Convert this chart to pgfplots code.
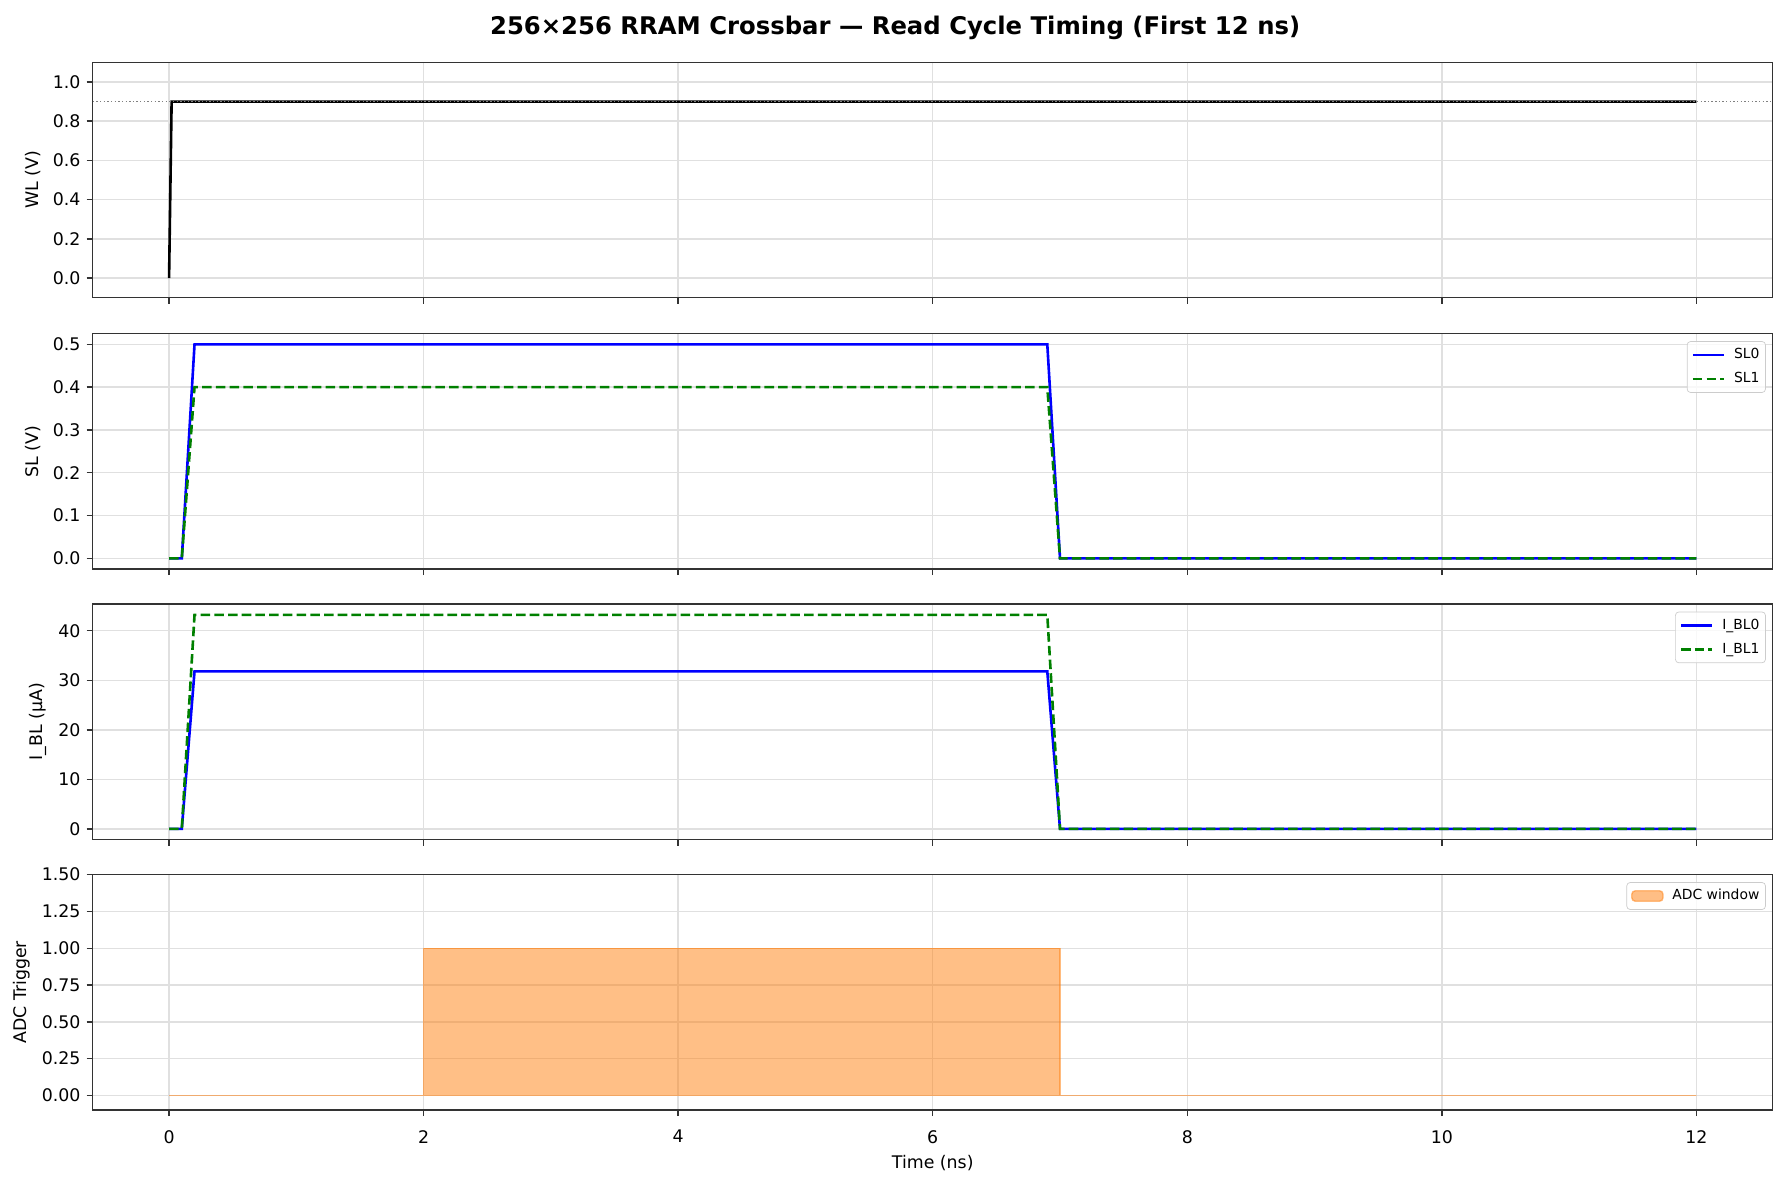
\documentclass[border=0pt]{standalone}
\usepackage{fontspec}
\setmainfont{DejaVu Sans}
\usepackage{pgfplots}
\pgfplotsset{compat=1.18}

\definecolor{mplblue}{RGB}{0,0,255}
\definecolor{mplgreen}{RGB}{0,128,0}
\definecolor{adcorange}{RGB}{255,127,14}
\definecolor{spine}{RGB}{51,51,51}

\pgfplotsset{
  panel/.style={
    scale only axis, width=967.7pt, height=135.6pt,
    anchor=south west,
    xmin=-0.6, xmax=12.6, xtick={0,2,4,6,8,10,12},
    tick pos=left, tick align=outside,
    major tick length=3.5pt,
    tick style={spine, line width=0.8pt},
    axis line style={spine, line width=0.8pt},
    grid=major, grid style={black!12, line width=0.8pt},
    ticklabel style={font=\fontsize{10}{12}\selectfont},
    xticklabel style={yshift=-4.6pt},
    label style={font=\fontsize{10}{12}\selectfont},
    /pgf/number format/assume math mode=true,
    legend cell align=left,
    legend style={at={(1,1)}, anchor=north east, xshift=-4pt, yshift=-4.3pt,
      font=\fontsize{8}{9.6}\selectfont, draw=black!20, rounded corners=2pt,
      fill=white, fill opacity=0.8, text opacity=1,
      inner xsep=2.5pt, inner ysep=3pt, nodes={inner sep=1pt},
      column sep=4pt, row sep=4.5pt},
    legend image code/.code={\draw[#1, line width=1.5pt] (0pt,0pt) -- (18pt,0pt);},
  },
  sigline/.style={line width=1.5pt},
  dashline/.style={line width=1.5pt, dash pattern=on 5.5pt off 2.4pt},
}

\begin{document}
\begin{tikzpicture}

% WL
\begin{axis}[panel, at={(0pt,467.9pt)}, xticklabels={},
  ymin=-0.1, ymax=1.1, ytick={0,0.2,0.4,0.6,0.8,1.0},
  yticklabel style={/pgf/number format/.cd, fixed, fixed zerofill, precision=1},
  ylabel={WL (V)},
  title={256×256 RRAM Crossbar — Read Cycle Timing (First 12 ns)},
  title style={at={(axis description cs:0.4776,1)}, anchor=base, yshift=10.3pt,
    font=\bfseries\fontsize{14}{16.8}\selectfont}]
\addplot[black, sigline] coordinates {(0,0) (0.02,0.9) (12,0.9)};
\addplot[gray, line width=0.8pt, dash pattern=on 0.8pt off 1.3pt] coordinates {(-0.6,0.9) (12.6,0.9)};
\end{axis}

% SL
\begin{axis}[panel, at={(0pt,311.6pt)}, xticklabels={},
  ymin=-0.025, ymax=0.525, ytick={0,0.1,0.2,0.3,0.4,0.5},
  yticklabel style={/pgf/number format/.cd, fixed, fixed zerofill, precision=1},
  ylabel={SL (V)}]
\addplot[mplblue, sigline] coordinates {(0,0) (0.1,0) (0.2,0.5) (6.9,0.5) (7.0,0) (12,0)};
\addlegendentry{SL0}
\addplot[mplgreen, dashline] coordinates {(0,0) (0.1,0) (0.2,0.4) (6.9,0.4) (7.0,0) (12,0)};
\addlegendentry{SL1}
\end{axis}

% I_BL
\begin{axis}[panel, at={(0pt,155.8pt)}, xticklabels={},
  ymin=-2.16, ymax=45.36, ytick={0,10,20,30,40},
  ylabel={I\_BL (µA)}]
\addplot[mplblue, sigline] coordinates {(0,0) (0.1,0) (0.2,31.8) (6.9,31.8) (7.0,0) (12,0)};
\addlegendentry{I\_BL0}
\addplot[mplgreen, dashline] coordinates {(0,0) (0.1,0) (0.2,43.2) (6.9,43.2) (7.0,0) (12,0)};
\addlegendentry{I\_BL1}
\end{axis}

% ADC
\begin{axis}[panel, at={(0pt,0pt)},
  ymin=-0.1, ymax=1.5, ytick={0,0.25,0.5,0.75,1.0,1.25,1.5},
  yticklabel style={/pgf/number format/.cd, fixed, fixed zerofill, precision=2},
  ylabel={ADC Trigger}, xlabel={Time (ns)},
  legend image code/.code={\draw[#1] (0pt,-3pt) rectangle (18pt,3pt);}]
\addplot[draw=adcorange, draw opacity=0.5, fill=adcorange, fill opacity=0.5, line width=0.8pt]
  coordinates {(0,0) (2,0) (2,1) (7,1) (7,0) (12,0)} \closedcycle;
\addlegendentry{ADC window}
\end{axis}

\pgfresetboundingbox
\path[use as bounding box] (-53.4pt,-43.8pt) rectangle (975.9pt,639.4pt);
\end{tikzpicture}
\end{document}
